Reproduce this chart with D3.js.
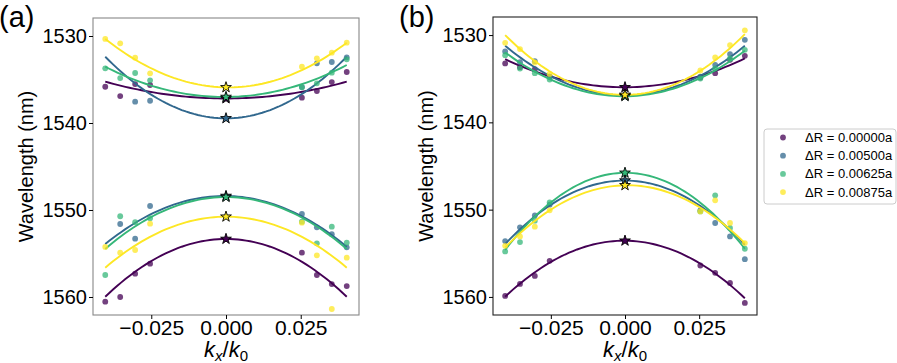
<!DOCTYPE html>
<html>
<head>
<meta charset="utf-8">
<script src="https://cdn.jsdelivr.net/npm/d3@7"></script>
<style>
  body { margin: 0; background: #fff; }
  svg { font-family: "Liberation Sans", Arial, sans-serif; }
</style>
</head>
<body>
<svg id="chart" width="897" height="363"></svg>
<script>
// wavevector samples (k_x/k_0), same for every series
var kValues = [-0.0404, -0.0354, -0.0304, -0.0254, 0.0254, 0.0304, 0.0354, 0.0404];
var kEdge = 0.0404;

var labels = ["ΔR = 0.00000a", "ΔR = 0.00500a", "ΔR = 0.00625a", "ΔR = 0.00875a"];
var colors = ["#440154", "#31688e", "#35b779", "#fde725"];

var xTicks = [-0.025, 0, 0.025];
var yTicks = [1530, 1540, 1550, 1560];

// measured points, one row per series (nm), null = not shown
var aUpper = [
  [1535.83, 1536.90, 1535.52, 1535.63, 1537.09, 1536.32, 1535.29, 1534.14],
  [null, null, 1537.55, 1537.44, 1535.86, 1533.14, 1532.99, 1532.45],
  [1533.71, 1534.83, 1534.25, 1535.09, 1535.90, 1535.44, 1534.22, 1532.68],
  [1530.34, 1530.84, 1532.49, 1534.29, 1533.53, 1532.56, 1531.92, 1530.77]
];
var aLower = [
  [1560.54, 1560.00, 1557.32, 1556.17, 1554.91, 1557.47, 1558.51, 1558.74],
  [null, 1551.61, 1553.30, 1549.54, 1550.46, 1551.99, 1552.79, 1554.29],
  [1557.47, 1550.72, 1551.41, 1550.95, 1551.34, 1553.83, 1551.92, 1553.76],
  [1554.25, 1554.91, 1554.60, 1551.57, 1551.46, 1555.21, 1561.38, 1555.48]
];
var bUpper = [
  [1533.25, 1533.68, 1533.91, 1534.75, 1534.86, 1534.37, 1532.84, 1532.38],
  [1531.87, 1533.10, 1532.99, 1534.75, 1534.75, 1533.41, 1532.18, 1530.54],
  [1532.30, 1533.83, 1534.37, 1535.09, 1534.98, 1533.83, 1532.68, 1531.69],
  [1530.89, 1531.61, 1533.14, 1534.45, 1534.06, 1532.56, 1531.15, 1529.46]
];
var bLower = [
  [1559.89, 1558.51, 1557.59, 1555.86, 1556.40, 1557.24, 1558.39, 1560.69],
  [1553.60, 1552.03, 1550.66, 1549.43, 1550.10, 1551.53, 1553.07, 1555.67],
  [1554.79, 1553.71, 1551.26, 1549.16, 1550.20, 1548.36, 1552.10, 1554.48],
  [1554.14, 1553.07, 1551.95, 1550.08, 1550.20, 1548.93, 1551.53, 1553.83]
];

// parabolic fits: [value at -kEdge, vertex at 0, value at +kEdge]
var aUpperFit = [
  [1535.25, 1537.18, 1535.25],
  [1532.38, 1539.46, 1532.38],
  [1533.53, 1537.01, 1533.33],
  [1530.34, 1535.90, 1530.77]
];
var aLowerFit = [
  [1559.97, 1553.33, 1559.97],
  [1553.91, 1548.39, 1554.22],
  [1554.48, 1548.51, 1554.48],
  [1556.63, 1550.77, 1556.63]
];
var bUpperFit = [
  [1532.76, 1535.98, 1532.68],
  [1531.23, 1536.90, 1531.23],
  [1531.99, 1537.01, 1531.80],
  [1530.00, 1536.85, 1529.89]
];
var bLowerFit = [
  [1559.97, 1553.56, 1560.15],
  [1553.94, 1546.67, 1554.02],
  [1554.60, 1545.78, 1554.48],
  [1554.33, 1547.21, 1553.83]
];

var svg = d3.select("#chart");

var fitCurve = function (f) {
  var a1 = (f[2] - f[0]) / (2 * kEdge);
  var a2 = ((f[0] + f[2]) / 2 - f[1]) / (kEdge * kEdge);
  return function (k) { return f[1] + a1 * k + a2 * k * k; };
};

var fmtX = function (d) {
  return d === 0 ? "0.000" : d3.format(".3f")(d).replace("-", "\u2212");
};

var drawPanel = function (opt) {
  var x = d3.scaleLinear().domain([-0.0445, 0.0445]).range([opt.left, opt.right]);
  var y = d3.scaleLinear().domain([1527.93, 1562.07]).range([opt.top, opt.bottom]);
  var g = svg.append("g");

  var bands = [[opt.upper, opt.upperFit], [opt.lower, opt.lowerFit]];
  var line = d3.line().x(function (d) { return x(d[0]); }).y(function (d) { return y(d[1]); });
  var samples = d3.range(0, 61).map(function (i) { return -kEdge + i * (2 * kEdge / 60); });

  bands.forEach(function (band) {
    band[0].forEach(function (row, s) {
      var pts = kValues.map(function (k, i) { return [k, row[i]]; })
        .filter(function (p) { return p[1] !== null; });
      g.append("g").selectAll("circle").data(pts).enter().append("circle")
        .attr("cx", function (d) { return x(d[0]); })
        .attr("cy", function (d) { return y(d[1]); })
        .attr("r", 2.9)
        .attr("fill", colors[s])
        .attr("fill-opacity", 0.75);
      var f = fitCurve(band[1][s]);
      g.append("path")
        .attr("d", line(samples.map(function (k) { return [k, f(k)]; })))
        .attr("fill", "none")
        .attr("stroke", colors[s])
        .attr("stroke-width", 1.9);
    });
  });

  // stars at the fitted extremum
  bands.forEach(function (band) {
    band[1].forEach(function (f, s) {
      g.append("path")
        .attr("d", d3.symbol(d3.symbolStar, 36)())
        .attr("transform", "translate(" + x(0) + "," + y(f[1]) + ")")
        .attr("fill", colors[s])
        .attr("stroke", "#000")
        .attr("stroke-width", 0.9);
    });
  });

  // frame
  g.append("rect")
    .attr("x", opt.left).attr("y", opt.top)
    .attr("width", opt.right - opt.left).attr("height", opt.bottom - opt.top)
    .attr("fill", "none").attr("stroke", opt.frame).attr("stroke-width", 1.1);

  var xAxis = g.append("g").attr("transform", "translate(0," + opt.bottom + ")")
    .call(d3.axisBottom(x).tickValues(xTicks).tickFormat(fmtX).tickSize(4).tickPadding(1));
  var yAxis = g.append("g").attr("transform", "translate(" + opt.left + ",0)")
    .call(d3.axisLeft(y).tickValues(yTicks).tickFormat(d3.format("d")).tickSize(4).tickPadding(2));
  [xAxis, yAxis].forEach(function (ax) {
    ax.select(".domain").remove();
    ax.selectAll("line").attr("stroke", "#000");
    ax.selectAll("text").attr("fill", "#000")
      .attr("font-family", "Liberation Sans, Arial, sans-serif");
  });
  xAxis.selectAll("text").attr("font-size", 21);
  yAxis.selectAll("text").attr("font-size", 20);

  // axis titles
  var cx = (opt.left + opt.right) / 2;
  var xl = g.append("text").attr("x", cx).attr("y", 357)
    .attr("text-anchor", "middle").attr("font-size", 22);
  xl.append("tspan").attr("font-style", "italic").text("k");
  xl.append("tspan").attr("font-style", "italic").attr("font-size", 15).attr("dy", 4).text("x");
  xl.append("tspan").attr("dy", -4).text("/");
  xl.append("tspan").attr("font-style", "italic").text("k");
  xl.append("tspan").attr("font-size", 15).attr("dy", 4).text("0");

  g.append("text")
    .attr("transform", "translate(" + (opt.left - 60) + "," + ((opt.top + opt.bottom) / 2) + ") rotate(-90)")
    .attr("text-anchor", "middle").attr("font-size", 20).text("Wavelength (nm)");

  g.append("text").attr("x", opt.tagX).attr("y", 27).attr("font-size", 29).text(opt.tag);
};

drawPanel({ left: 93, right: 359, top: 18, bottom: 315, frame: "#888",
  upper: aUpper, lower: aLower, upperFit: aUpperFit, lowerFit: aLowerFit, tag: "(a)", tagX: -1 });
drawPanel({ left: 493, right: 757, top: 17, bottom: 315, frame: "#222",
  upper: bUpper, lower: bLower, upperFit: bUpperFit, lowerFit: bLowerFit, tag: "(b)", tagX: 399 });

// legend
var legend = svg.append("g").attr("transform", "translate(764,129)");
legend.append("rect").attr("width", 132).attr("height", 75).attr("rx", 3)
  .attr("fill", "#fff").attr("stroke", "#ccc").attr("stroke-width", 1);
labels.forEach(function (lab, i) {
  var row = legend.append("g").attr("transform", "translate(0," + (8.5 + i * 18.2) + ")");
  row.append("circle").attr("cx", 19).attr("cy", 0).attr("r", 2.9)
    .attr("fill", colors[i]).attr("fill-opacity", 0.75);
  row.append("text").attr("x", 41).attr("y", 4.5).attr("font-size", 13).text(lab);
});
</script>
</body>
</html>
